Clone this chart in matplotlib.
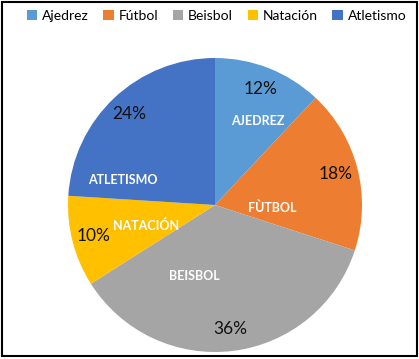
import matplotlib
matplotlib.use("Agg")
import matplotlib.pyplot as plt
from matplotlib.patches import Patch, Rectangle
import numpy as np

categories = ["Ajedrez", "Fútbol", "Beisbol", "Natación", "Atletismo"]
inner_labels = ["AJEDREZ", "FÙTBOL", "BEISBOL", "NATACIÓN", "ATLETISMO"]
values = [12, 18, 36, 10, 24]
colors = ["#5B9BD5", "#ED7D31", "#A5A5A5", "#FFC000", "#4472C4"]
# positions of category labels (in pie-radius units)
label_pos = [(0.29, 0.57), (0.39, -0.02), (-0.14, -0.48), (-0.47, -0.14), (-0.63, 0.17)]

W, H = 419, 359
fig = plt.figure(figsize=(W / 100, H / 100), dpi=100)
fig.patch.set_facecolor("white")

cx, cy, r = 215, 205, 147
ax = fig.add_axes([(cx - r) / W, (H - cy - r) / H, 2 * r / W, 2 * r / H])
wedges, _, autotexts = ax.pie(values, colors=colors, startangle=90, counterclock=False,
                              autopct=lambda p: f"{p:.0f}%", pctdistance=0.85,
                              radius=1, wedgeprops=dict(linewidth=0),
                              textprops=dict(fontsize=12.5, color="#111111", family="Lato"))
for (x, y), t in zip(label_pos, inner_labels):
    ax.text(x, y, t, ha="center", va="center", color="white", fontsize=9,
            fontweight="bold", family="Lato")
ax.set_xlim(-1, 1)
ax.set_ylim(-1, 1)
ax.set_aspect("equal")
ax.axis("off")

handles = [Patch(facecolor=c, edgecolor="none") for c in colors]
fig.legend(handles, categories, loc="upper center", bbox_to_anchor=(0.517, 1.008), ncol=5,
           frameon=False, handlelength=0.75, handleheight=0.75, handletextpad=0.35,
           columnspacing=1.05, prop=dict(family="Lato", size=10))

fig.add_artist(Rectangle((1.5 / W, 1 - 356 / H), (417 - 1.5) / W, (356 - 1.5) / H,
                         transform=fig.transFigure, fill=False, edgecolor="black", linewidth=1.5))

fig.savefig("out.png", dpi=100)
